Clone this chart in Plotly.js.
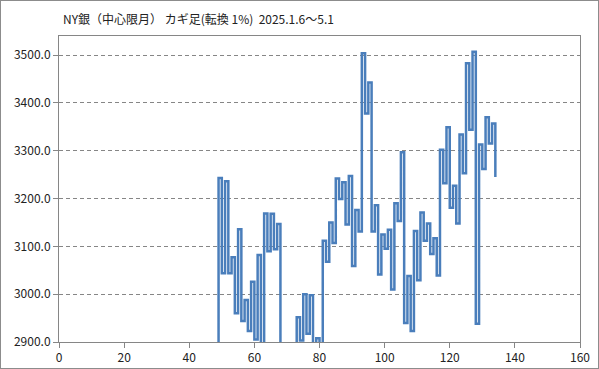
<!DOCTYPE html>
<html>
<head>
<meta charset="utf-8">
<script src="https://cdn.plot.ly/plotly-3.0.1.min.js"></script>
<style>
  html, body { margin: 0; padding: 0; background: #fff; }
  #frame { width: 599px; height: 369px; box-sizing: border-box; border: 1px solid #8c8c8c; }
  #chart { width: 597px; height: 367px; }
</style>
</head>
<body>
<div id="frame"><div id="chart"></div></div>
<script>
// Kagi line: line number (x index) of the first value, then the turning prices
const startIndex = 48;
const kagiValues = [
  2880, 3243, 3044, 3236, 3044, 3077, 2960, 3136, 2944, 2988,
  2923, 3026, 2905, 3082, 2870, 3169, 3090, 3168, 3094, 3147,
  2870, 2895, 2845, 2885, 2830, 2952, 2903, 3000, 2917, 2998,
  2880, 2908, 2875, 3112, 3068, 3150, 3107, 3242, 3199, 3234,
  3146, 3247, 3059, 3176, 3131, 3504, 3378, 3443, 3131, 3186,
  3041, 3125, 3095, 3135, 3010, 3190, 3153, 3297, 2940, 3038,
  2923, 3132, 3029, 3171, 3112, 3148, 3084, 3117, 3039, 3302,
  3232, 3349, 3181, 3227, 3148, 3334, 3253, 3483, 3344, 3507,
  2938, 3313, 3262, 3370, 3315, 3357, 3245
];
const titleText = "NY銀（中心限月） カギ足(転換 1%)&nbsp;&nbsp;2025.1.6～5.1";
const xTicks = [0, 20, 40, 60, 80, 100, 120, 140, 160];
const yTicks = [2900, 3000, 3100, 3200, 3300, 3400, 3500];

const xIdx = kagiValues.map((_, k) => startIndex + k);

const trace = {
  type: 'scatter',
  mode: 'lines',
  x: xIdx,
  y: kagiValues,
  line: { shape: 'hv', color: '#4A7EBB', width: 2.5 },
  hoverinfo: 'x+y'
};

const font = { family: '"Noto Sans CJK JP", "Liberation Sans", sans-serif', size: 12, color: '#222' };

const layout = {
  width: 597,
  height: 367,
  margin: { l: 58, r: 17.5, t: 34.5, b: 26.3, pad: 0 },
  paper_bgcolor: '#fff',
  plot_bgcolor: '#fff',
  showlegend: false,
  font: font,
  title: {
    text: titleText,
    font: { family: '"Noto Sans CJK JP", sans-serif', size: 12, color: '#222' },
    x: 62 / 597, xanchor: 'left', xref: 'container',
    y: 1 - 19 / 367, yanchor: 'middle', yref: 'container'
  },
  xaxis: {
    range: [0, 160],
    tickvals: xTicks,
    ticktext: xTicks.map(String),
    showgrid: false,
    zeroline: false,
    showline: true,
    linecolor: '#868686',
    linewidth: 1,
    mirror: true,
    ticks: 'outside',
    ticklen: 5,
    tickcolor: '#868686',
    tickfont: font
  },
  yaxis: {
    range: [2900, 3540],
    tickvals: yTicks,
    ticktext: yTicks.map(v => v.toFixed(1)),
    showgrid: true,
    gridcolor: '#868686',
    griddash: '4px,3px',
    gridwidth: 1,
    zeroline: false,
    showline: true,
    linecolor: '#868686',
    linewidth: 1,
    mirror: true,
    ticks: 'outside',
    ticklen: 5,
    tickcolor: '#868686',
    tickfont: font
  }
};

Plotly.newPlot('chart', [trace], layout, { displayModeBar: false, staticPlot: true });
</script>
</body>
</html>
